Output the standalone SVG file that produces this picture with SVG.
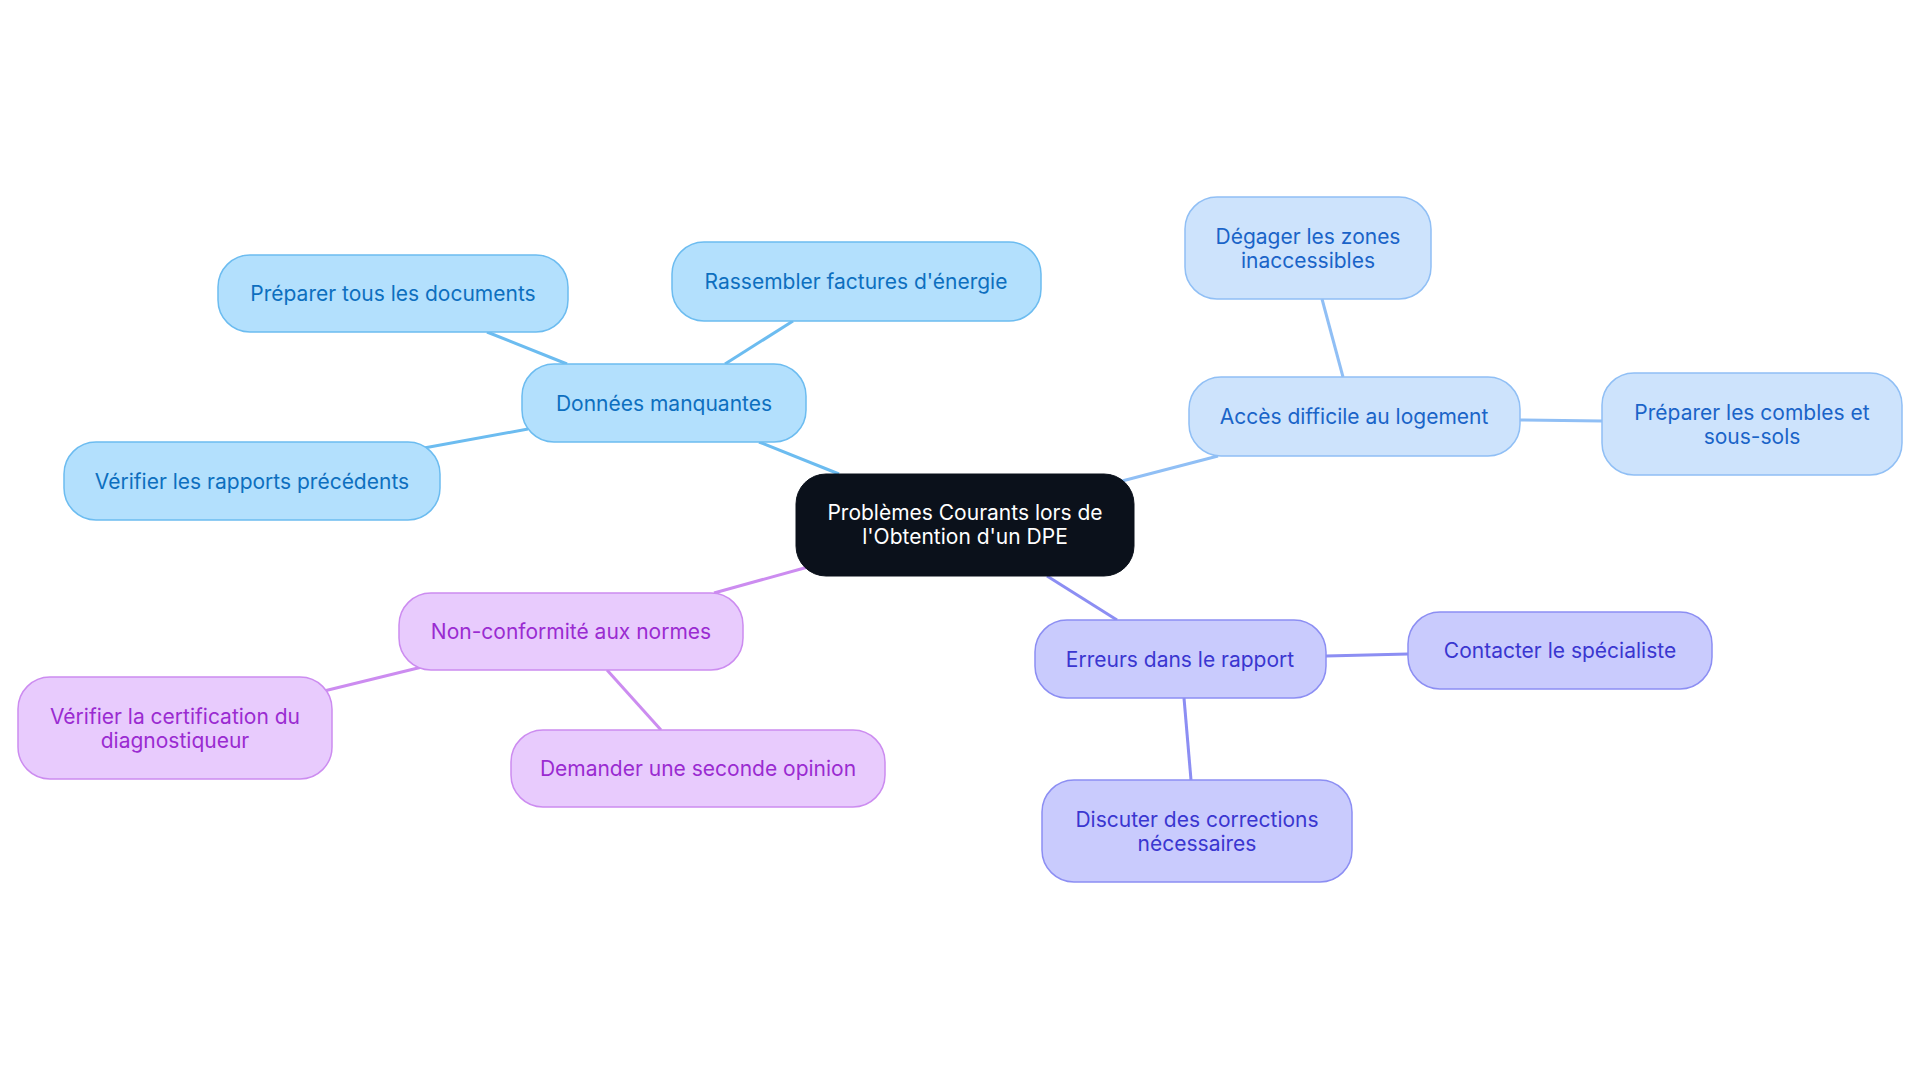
<svg xmlns="http://www.w3.org/2000/svg" width="1920" height="1083" viewBox="0 0 1920 1083">
<style>
text{font-family:Inter,"Noto Sans",sans-serif;font-size:21px;text-anchor:middle;dominant-baseline:central}
.b rect{fill:#b3e0fd;stroke:#6cbcf0;stroke-width:1.5}.b text{fill:#0d6fbf}
.l rect{fill:#cde3fc;stroke:#90bff5;stroke-width:1.5}.l text{fill:#1a64c8}
.i rect{fill:#c9cbfd;stroke:#8c8ef3;stroke-width:1.5}.i text{fill:#3a36d0}
.p rect{fill:#e8cbfd;stroke:#cc8cf0;stroke-width:1.5}.p text{fill:#9a2bd1}
.c rect{fill:#0b111b;stroke:#0b111b}.c text{fill:#fff}
line{stroke-width:3}
</style>
<g id="connectors">
<line x1="839" y1="474" x2="759" y2="442" stroke="#6cbcf0"/>
<line x1="567" y1="364" x2="487" y2="332" stroke="#6cbcf0"/>
<line x1="725" y1="364" x2="793" y2="321" stroke="#6cbcf0"/>
<line x1="528" y1="429" x2="424" y2="448" stroke="#6cbcf0"/>
<line x1="1122" y1="481" x2="1218" y2="456" stroke="#90bff5"/>
<line x1="1343" y1="377" x2="1322" y2="299" stroke="#90bff5"/>
<line x1="1520" y1="420" x2="1602" y2="421" stroke="#90bff5"/>
<line x1="1047" y1="576" x2="1117" y2="620" stroke="#8c8ef3"/>
<line x1="1326" y1="656" x2="1408" y2="654" stroke="#8c8ef3"/>
<line x1="1184" y1="698" x2="1191" y2="780" stroke="#8c8ef3"/>
<line x1="808" y1="567" x2="714" y2="593" stroke="#cc8cf0"/>
<line x1="422" y1="667" x2="324" y2="691" stroke="#cc8cf0"/>
<line x1="607" y1="670" x2="661" y2="730" stroke="#cc8cf0"/>
</g>
<g id="center" class="c"><rect x="796" y="474" width="338" height="102" rx="30"/><text x="965" y="512">Problèmes Courants lors de</text><text x="965" y="536">l'Obtention d'un DPE</text></g>
<g id="donnees" class="b"><rect x="522" y="364" width="284" height="78" rx="32"/><text x="664" y="403">Données manquantes</text></g>
<g id="preparer-docs" class="b"><rect x="218" y="255" width="350" height="77" rx="32"/><text x="393" y="293">Préparer tous les documents</text></g>
<g id="rassembler" class="b"><rect x="672" y="242" width="369" height="79" rx="32"/><text x="856" y="281">Rassembler factures d'énergie</text></g>
<g id="verifier-rapports" class="b"><rect x="64" y="442" width="376" height="78" rx="32"/><text x="252" y="481">Vérifier les rapports précédents</text></g>
<g id="acces" class="l"><rect x="1189" y="377" width="331" height="79" rx="32"/><text x="1354" y="416">Accès difficile au logement</text></g>
<g id="degager" class="l"><rect x="1185" y="197" width="246" height="102" rx="32"/><text x="1308" y="236">Dégager les zones</text><text x="1308" y="260">inaccessibles</text></g>
<g id="combles" class="l"><rect x="1602" y="373" width="300" height="102" rx="32"/><text x="1752" y="412">Préparer les combles et</text><text x="1752" y="436">sous-sols</text></g>
<g id="erreurs" class="i"><rect x="1035" y="620" width="291" height="78" rx="32"/><text x="1180" y="659">Erreurs dans le rapport</text></g>
<g id="contacter" class="i"><rect x="1408" y="612" width="304" height="77" rx="32"/><text x="1560" y="650">Contacter le spécialiste</text></g>
<g id="discuter" class="i"><rect x="1042" y="780" width="310" height="102" rx="32"/><text x="1197" y="819">Discuter des corrections</text><text x="1197" y="843">nécessaires</text></g>
<g id="nonconf" class="p"><rect x="399" y="593" width="344" height="77" rx="32"/><text x="571" y="631">Non-conformité aux normes</text></g>
<g id="certif" class="p"><rect x="18" y="677" width="314" height="102" rx="32"/><text x="175" y="716">Vérifier la certification du</text><text x="175" y="740">diagnostiqueur</text></g>
<g id="demander" class="p"><rect x="511" y="730" width="374" height="77" rx="32"/><text x="698" y="768">Demander une seconde opinion</text></g>
</svg>
